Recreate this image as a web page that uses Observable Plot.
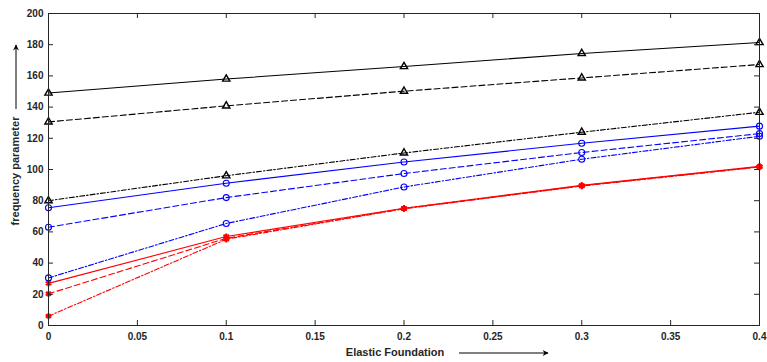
<!DOCTYPE html>
<html><head><meta charset="utf-8">
<script src="https://cdn.jsdelivr.net/npm/d3@7"></script>
<script src="https://cdn.jsdelivr.net/npm/@observablehq/plot@0.6"></script>
<style>body{margin:0;background:#fff;} #chart svg{display:block;}</style>
</head><body><div id="chart"></div>
<script>
const foundation = [0, 0.1, 0.2, 0.3, 0.4];
const blackSolid   = [149, 158, 166, 174.4, 181.4];
const blackDashed  = [130.5, 140.8, 150.2, 158.7, 167.3];
const blackDashDot = [80, 96, 110.6, 123.9, 136.7];
const blueSolid    = [75.5, 91.2, 104.8, 116.8, 127.8];
const blueDashed   = [63, 82, 97.4, 110.9, 123];
const blueDashDot  = [30.5, 65.4, 88.8, 106.6, 121.3];
const redSolid     = [27, 57, 75.2, 89.8, 102];
const redDashed    = [20.3, 55.9, 75, 89.6, 101.8];
const redDashDot   = [6, 55.3, 74.8, 89.4, 101.6];
const xTicks = [0, 0.05, 0.1, 0.15, 0.2, 0.25, 0.3, 0.35, 0.4];
const yTicks = [0, 20, 40, 60, 80, 100, 120, 140, 160, 180, 200];
const xTitle = "Elastic Foundation";
const yTitle = "frequency parameter";

const DASH = "6,3", DASHDOT = "5,2,1.5,2";
const series = [
  {v: redDashDot,   color: "#ff0000", dash: DASHDOT, symbol: "asterisk"},
  {v: redDashed,    color: "#ff0000", dash: DASH,    symbol: "asterisk"},
  {v: redSolid,     color: "#ff0000", dash: null,    symbol: "asterisk"},
  {v: blueDashDot,  color: "#0000ff", dash: DASHDOT, symbol: "circle"},
  {v: blueDashed,   color: "#0000ff", dash: DASH,    symbol: "circle"},
  {v: blueSolid,    color: "#0000ff", dash: null,    symbol: "circle"},
  {v: blackDashDot, color: "#000000", dash: DASHDOT, symbol: "triangle"},
  {v: blackDashed,  color: "#000000", dash: DASH,    symbol: "triangle"},
  {v: blackSolid,   color: "#000000", dash: null,    symbol: "triangle"}
];

const W = 767, H = 362;
const mL = 48, mR = 8, mT = 13, mB = 37;
const frameW = W - mL - mR, frameH = H - mT - mB;
const TK = 5;

const marks = [];
for (const s of series) {
  const data = foundation.map((x, i) => ({x, y: s.v[i]}));
  marks.push(Plot.line(data, {x: "x", y: "y", stroke: s.color, strokeWidth: 1.1, strokeDasharray: s.dash}));
}
for (const s of series) {
  const data = foundation.map((x, i) => ({x, y: s.v[i]}));
  if (s.symbol === "asterisk") {
    marks.push(Plot.dot(data, {x: "x", y: "y", symbol: "asterisk", r: 3, stroke: s.color, strokeWidth: 2}));
    marks.push(Plot.dot(data, {x: "x", y: "y", symbol: "square", r: 1.6, fill: s.color}));
  } else if (s.symbol === "circle") {
    marks.push(Plot.dot(data, {x: "x", y: "y", symbol: "circle", r: 3, stroke: s.color, fill: "none", strokeWidth: 1.1}));
  } else {
    marks.push(Plot.dot(data, {x: "x", y: "y", symbol: "triangle", r: 2.7, stroke: s.color, fill: "none", strokeWidth: 1.4}));
  }
}

const chart = Plot.plot({
  width: W, height: H,
  marginLeft: mL, marginRight: mR, marginTop: mT, marginBottom: mB,
  style: {fontFamily: "'Liberation Sans', Arial, sans-serif", fontSize: "10px", fontWeight: "bold", color: "#262626", background: "#fff", overflow: "visible"},
  x: {domain: [0, 0.4]},
  y: {domain: [0, 200]},
  marks: [
    ...marks,
    Plot.tickX(xTicks, {x: d => d, insetTop: frameH - TK, stroke: "#262626"}),
    Plot.tickX(xTicks, {x: d => d, insetBottom: frameH - TK, stroke: "#262626"}),
    Plot.tickY(yTicks, {y: d => d, insetRight: frameW - TK, stroke: "#262626"}),
    Plot.tickY(yTicks, {y: d => d, insetLeft: frameW - TK, stroke: "#262626"}),
    Plot.frame({stroke: "#262626", strokeWidth: 1}),
    Plot.axisX(xTicks, {tickSize: 0, tickPadding: 7, label: null, tickFormat: d => String(d), fill: "#262626"}),
    Plot.axisY(yTicks, {tickSize: 0, tickPadding: 5, label: null, tickFormat: d => String(d), fill: "#262626"})
  ]
});

const svg = d3.select(chart);
const defs = svg.append("defs");
defs.append("marker").attr("id", "ah").attr("viewBox", "0 0 10 10").attr("refX", 9).attr("refY", 5)
  .attr("markerWidth", 7).attr("markerHeight", 6).attr("orient", "auto-start-reverse").attr("markerUnits", "userSpaceOnUse")
  .append("path").attr("d", "M0,0 L10,5 L0,10 L3,5 Z").attr("fill", "#000");

svg.append("text").text(xTitle)
  .attr("x", 395).attr("y", 356).attr("text-anchor", "middle")
  .attr("font-size", 11).attr("font-weight", "bold").attr("fill", "#262626");
svg.append("line").attr("x1", 459).attr("y1", 353).attr("x2", 548).attr("y2", 353)
  .attr("stroke", "#000").attr("stroke-width", 1).attr("marker-end", "url(#ah)");

svg.append("text").text(yTitle)
  .attr("transform", "translate(19,171) rotate(-90)").attr("text-anchor", "middle")
  .attr("font-size", 11).attr("font-weight", "bold").attr("fill", "#262626");
svg.append("line").attr("x1", 16).attr("y1", 109).attr("x2", 16).attr("y2", 45)
  .attr("stroke", "#000").attr("stroke-width", 1).attr("marker-end", "url(#ah)");

document.getElementById("chart").appendChild(chart);
</script>
</body></html>
